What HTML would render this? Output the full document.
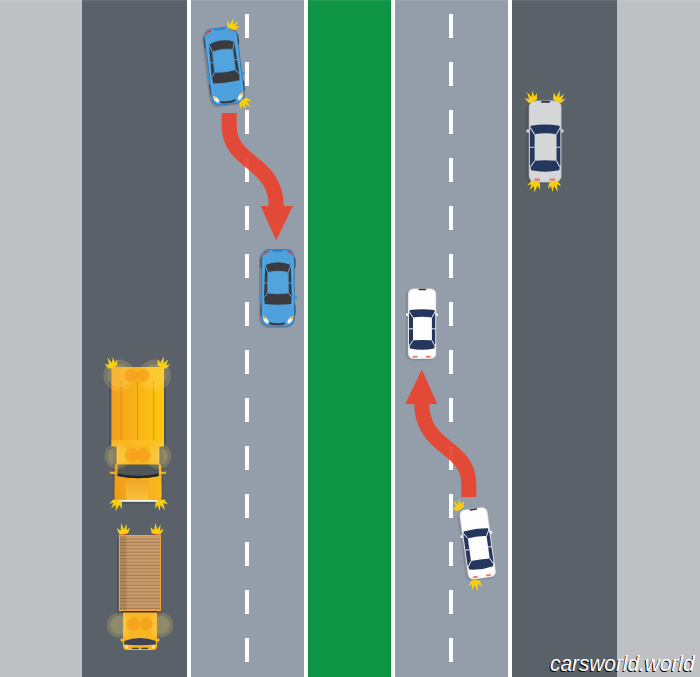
<!DOCTYPE html>
<html><head><meta charset="utf-8">
<style>
html,body{margin:0;padding:0;width:700px;height:677px;overflow:hidden;background:#bfc0c3;}
svg{display:block;position:absolute;left:0;top:0;}
.wm{position:absolute;left:550px;top:651px;font-family:"Liberation Sans",sans-serif;font-style:italic;font-size:21.5px;line-height:26px;color:#fff;text-shadow:-1px 0.6px 0.6px #000;letter-spacing:0px;white-space:nowrap;transform-origin:0 0;transform:scaleX(0.968);}
</style></head><body>
<svg width="700" height="677" viewBox="0 0 700 677">
<defs>
  <pattern id="dash" x="0" y="14" width="4" height="48" patternUnits="userSpaceOnUse">
    <rect x="0" y="0" width="4" height="24" fill="#fff"/>
  </pattern>
  <g id="spark" transform="scale(0.9)">
    <path d="M-5,2.5 L-7.2,-4.5 L-3,-1.2 L-1.8,-9.5 L0.6,-2.2 L4,-8 L3.8,-1.2 L7.8,-3.8 L5,2.5 Q0,4 -5,2.5 Z" fill="#f6cf10"/>
  </g>
  <!-- blue car: 34x77, front at bottom -->
  <g id="bluecar">
    <rect x="-1.5" y="1.5" width="36" height="77.5" rx="9" fill="#000" opacity="0.16"/>
    <rect x="0" y="8" width="35" height="12" rx="2" fill="#3d4147"/>
    <rect x="0" y="55" width="35" height="12" rx="2" fill="#3d4147"/>
    
    <path d="M4,46.5 L-1.8,47.2 Q-2.4,48.8 -1.4,49.8 L4,50.4 Z M31,46.5 L36.8,47.2 Q37.4,48.8 36.4,49.8 L31,50.4 Z" fill="#3f97d8"/>
    <path d="M9,0 L26,0 Q34,0 34,9 L34.2,68 Q34.2,77.5 25,77.5 L10,77.5 Q0.8,77.5 0.8,68 L1,9 Q1,0 9,0 Z" fill="#2f7ec2"/>
    <path d="M9.3,0.9 L25.7,0.9 Q33.1,0.9 33.1,9 L33.3,68 Q33.3,76.6 25,76.6 L10,76.6 Q1.7,76.6 1.7,68 L1.9,9 Q1.9,0.9 9.3,0.9 Z" fill="#4ea1dc"/>
    <path d="M2.6,10 L2.6,66" stroke="#5cb3ef" stroke-width="0.8"/>
    <path d="M32.4,10 L32.4,66" stroke="#5cb3ef" stroke-width="0.8"/>
    <rect x="11.8" y="1" width="10.6" height="1.8" fill="#3480c6"/>
    <path d="M2.8,6 Q4,2 8.8,1.2 L8,3 Q5,4 3.3,6.2 Z" fill="#e8391c"/>
    <path d="M32.2,6 Q31,2 26.2,1.2 L27,3 Q30,4 31.7,6.2 Z" fill="#e8391c"/>
    <path d="M4.8,16 Q17.5,10.5 30.2,16 L31.3,47 L30.7,55 Q17.5,56.3 4.3,55 L3.5,47 Z" fill="#3b3b3e"/>
    <path d="M7.2,23.3 Q17.5,20.8 27.8,23.3 L28,44 Q17.5,45.8 7,44 Z" fill="#53a3dc" stroke="#3f93d2" stroke-width="0.7"/>
    <path d="M7.2,23.3 L4.8,16 M27.8,23.3 L30.2,16 M7,44 L3.8,48 M28,44 L31.2,48 M3.5,34 L7.1,34 M27.9,34 L31.5,34" stroke="#53a3dc" stroke-width="1"/>
    <path d="M2.4,67.2 Q6,67.5 8.2,72.8 Q8,74.8 6,74.3 Q2.2,71.5 2.4,67.2 Z" fill="#fff7e4"/>
    <path d="M2.4,67.2 Q4.5,67.3 5.5,69.5 Q4,70.5 2.6,69.5 Z" fill="#f7b23a"/>
    <path d="M32.6,67.2 Q29,67.5 26.8,72.8 Q27,74.8 29,74.3 Q32.8,71.5 32.6,67.2 Z" fill="#fff7e4"/>
    <path d="M32.6,67.2 Q30.5,67.3 29.5,69.5 Q31,70.5 32.4,69.5 Z" fill="#f7b23a"/>
    <path d="M8.8,73 Q17.5,75.5 24.4,73 L24,75.5 Q17.5,77 9.2,75.5 Z" fill="#3b3b3e"/>
  </g>
  <!-- white car: 28x70, front at top -->
  <g id="whitecar">
    <rect x="-2.5" y="1" width="30" height="71" rx="6" fill="#000" opacity="0.10"/>
    <path d="M2,24.6 L-1.8,25 Q-2.5,26.5 -1.5,27.6 L2,27.6 Z M26,24.6 L29.8,25 Q30.5,26.5 29.5,27.6 L26,27.6 Z" fill="#fdfdfd"/>
    <rect x="0" y="0" width="28.2" height="70.5" rx="5.5" fill="#d9d9db"/>
    <rect x="0.7" y="0.7" width="26.8" height="69.1" rx="4.9" fill="#fdfdfd"/>
    <rect x="10.6" y="0.3" width="7.7" height="1.5" rx="0.7" fill="#333"/>
    <path d="M1.8,21.6 Q14,19.8 26.4,21.6 L27.2,26 L27.2,55 L26.2,60 Q14,62.5 2,60 L1,55 L1,26 Z" fill="#25375e"/>
    <path d="M5,29.1 Q14,27.3 23.9,29.1 L23.9,51.8 Q14,51 5,51.8 Z" fill="#fdfdfd"/>
    <path d="M5,29.1 L1.5,23.6 M23.9,29.1 L26.9,23.6 M5,51.8 L1.5,57.2 M23.9,51.8 L26.7,57.2 M0.8,40.3 L5,40.3 M23.9,40.3 L27.4,40.3" stroke="#fdfdfd" stroke-width="0.9"/>
    <rect x="4.5" y="67.2" width="5.2" height="2" rx="1" fill="#e8604c" opacity="0.8"/>
    <rect x="17.7" y="67.2" width="5.2" height="2" rx="1" fill="#e8604c" opacity="0.8"/>
  </g>
  <g id="silvercar">
    <rect x="-2.5" y="1" width="30" height="71" rx="6" fill="#000" opacity="0.10"/>
    <path d="M2,24.6 L-1.8,25 Q-2.5,26.5 -1.5,27.6 L2,27.6 Z M26,24.6 L29.8,25 Q30.5,26.5 29.5,27.6 L26,27.6 Z" fill="#d6d7d9"/>
    <rect x="0" y="0" width="28.2" height="70.5" rx="5.5" fill="#bfc0c3"/>
    <rect x="0.7" y="0.7" width="26.8" height="69.1" rx="4.9" fill="#d6d7d9"/>
    <rect x="10.6" y="0.3" width="7.7" height="1.5" rx="0.7" fill="#333"/>
    <path d="M1.8,21.6 Q14,19.8 26.4,21.6 L27.2,26 L27.2,55 L26.2,60 Q14,62.5 2,60 L1,55 L1,26 Z" fill="#25375e"/>
    <path d="M5,29.1 Q14,27.3 23.9,29.1 L23.9,51.8 Q14,51 5,51.8 Z" fill="#d6d7d9"/>
    <path d="M5,29.1 L1.5,23.6 M23.9,29.1 L26.9,23.6 M5,51.8 L1.5,57.2 M23.9,51.8 L26.7,57.2 M0.8,40.3 L5,40.3 M23.9,40.3 L27.4,40.3" stroke="#d6d7d9" stroke-width="0.9"/>
    <rect x="4.5" y="67.2" width="5.2" height="2" rx="1" fill="#e8604c" opacity="0.8"/>
    <rect x="17.7" y="67.2" width="5.2" height="2" rx="1" fill="#e8604c" opacity="0.8"/>
  </g>
  <linearGradient id="ygrad" x1="0" y1="0" x2="1" y2="0">
    <stop offset="0" stop-color="#f59e1c"/>
    <stop offset="0.5" stop-color="#f9b416"/>
    <stop offset="1" stop-color="#fdc80f"/>
  </linearGradient>
  <pattern id="slats" x="0" y="536.2" width="10" height="3.3" patternUnits="userSpaceOnUse">
    <rect x="0" y="0" width="10" height="3.3" fill="#c99d6c"/>
    <rect x="0" y="2.3" width="10" height="1" fill="#a67c52"/>
  </pattern>
  <linearGradient id="hood" x1="0" y1="0" x2="1" y2="0">
    <stop offset="0" stop-color="#f09a18"/>
    <stop offset="0.5" stop-color="#f6ae1c"/>
    <stop offset="1" stop-color="#f9b81e"/>
  </linearGradient>
  <linearGradient id="hoodc" x1="0" y1="0" x2="0" y2="1">
    <stop offset="0" stop-color="#f2a62a"/>
    <stop offset="1" stop-color="#fbc23a"/>
  </linearGradient>
</defs>

<!-- road background -->
<rect x="0" y="0" width="700" height="677" fill="#bfc0c3"/>
<rect x="82" y="0" width="105" height="677" fill="#5b6168"/>
<rect x="512" y="0" width="105" height="677" fill="#5b6168"/>
<rect x="187" y="0" width="4" height="677" fill="#fff"/>
<rect x="191" y="0" width="113" height="677" fill="#949eab"/>
<rect x="304" y="0" width="4" height="677" fill="#fff"/>
<rect x="308" y="0" width="83" height="677" fill="#0d9444"/>
<rect x="391" y="0" width="4" height="677" fill="#fff"/>
<rect x="395" y="0" width="113" height="677" fill="#949eab"/>
<rect x="508" y="0" width="4" height="677" fill="#fff"/>
<rect x="245" y="0" width="4" height="677" fill="url(#dash)"/>
<rect x="449" y="0" width="4" height="677" fill="url(#dash)"/>
<rect x="0" y="0" width="700" height="1.2" fill="#fff" opacity="0.08"/>


<!-- arrows -->
<g id="arrow1" opacity="0.93">
  <path d="M229.2,113 L229.2,126 C229.2,165 276.3,160 276.3,207" stroke="#e8432f" stroke-width="15" fill="none"/>
  <path d="M260.7,206 L292.8,206 L276.2,240.5 Z" fill="#e8432f"/>
</g>
<use href="#arrow1" transform="translate(698,610) rotate(180)"/>

<!-- blue cars -->
<use href="#bluecar" transform="translate(224.4,65.6) rotate(-7) translate(-17.5,-38.5)"/>
<use href="#bluecar" transform="translate(260.5,249)"/>
<use href="#spark" transform="translate(232,26.5) rotate(20)"/>
<use href="#spark" transform="translate(244,102) rotate(140)"/>

<!-- white cars -->
<use href="#whitecar" transform="translate(408,288.5)"/>
<use href="#whitecar" transform="translate(477.6,543.4) rotate(-8) translate(-14,-35.25)"/>
<use href="#spark" transform="translate(459,507) rotate(-30)"/>
<use href="#spark" transform="translate(475.5,583) rotate(180)"/>

<!-- silver car -->
<use href="#silvercar" transform="translate(528.8,100.6) scale(1.16)"/>
<use href="#spark" transform="translate(532,99) rotate(-25)"/>
<use href="#spark" transform="translate(558,99) rotate(25)"/>
<use href="#spark" transform="translate(535,184) rotate(195)"/>
<use href="#spark" transform="translate(554,184) rotate(165)"/>

<!-- yellow box truck -->
<g id="ytruck">
  <rect x="109" y="369" width="57" height="81" fill="#000" opacity="0.15"/>
  <rect x="111.4" y="367" width="52.6" height="79.5" fill="url(#ygrad)"/>
  <rect x="120.6" y="381" width="0.9" height="59" fill="#dc8e1e"/>
  <rect x="137.1" y="381" width="0.9" height="59" fill="#dc8e1e"/>
  <rect x="153.2" y="381" width="0.9" height="59" fill="#dc8e1e"/>
  <rect x="111.4" y="440" width="52.6" height="6.5" fill="#fbc02a" opacity="0.6"/>
  <!-- cab -->
  <rect x="113" y="448" width="50" height="56" rx="5" fill="#000" opacity="0.12"/>
  <path d="M109.5,471.4 Q112,472 115,471.4 L115,473.8 Q112,474.3 110,473.5 Z M166.5,471.4 Q164,472 161,471.4 L161,473.8 Q164,474.3 166,473.5 Z" fill="#f6b21c"/>
  <path d="M116.8,446.2 L159.2,446.2 L159.2,463.8 L161.3,465.5 L161.8,496 Q161.8,502 155.8,502 L120.3,502 Q114.3,502 114.3,496 L114.8,465.5 L116.8,463.8 Z" fill="url(#hood)"/>
  <path d="M116.8,446.2 L159.2,446.2 L159.2,463.8 L116.8,463.8 Z" fill="#f9b71c"/>
  <path d="M117.6,446.5 L117.6,463.5 M158.4,446.5 L158.4,463.5" stroke="#fcd060" stroke-width="1"/>
  <path d="M117.6,464.6 L158.8,464.6 L158.8,476 Q138,480.5 117.6,476 Z" fill="#50575b"/>
  <path d="M117.6,473.5 Q138,478 158.8,473.5 L158.8,476 Q138,480.5 117.6,476 Z" fill="#24272b"/>
  <path d="M125.5,479.8 Q138,481 148.5,479.8 L148,501 L126.5,501 Z" fill="url(#hoodc)"/>
  <rect x="118.4" y="500" width="39.3" height="1.5" fill="#fbf7ea"/>
</g>
<g opacity="1">
  <circle cx="119.3" cy="375.5" r="16" fill="#ffe070" opacity="0.18"/>
  <circle cx="119.3" cy="375.5" r="11.5" fill="#ffe070" opacity="0.18"/>
  <circle cx="155" cy="375.5" r="16" fill="#ffe070" opacity="0.18"/>
  <circle cx="155" cy="375.5" r="11.5" fill="#ffe070" opacity="0.18"/>
  <circle cx="131" cy="375.5" r="6.5" fill="#f59c1c" opacity="0.72"/>
  <circle cx="143" cy="375.5" r="6.5" fill="#f59c1c" opacity="0.72"/>
  <circle cx="117.4" cy="456" r="13" fill="#ffe070" opacity="0.18"/>
  <circle cx="117.4" cy="456" r="9.4" fill="#ffe070" opacity="0.18"/>
  <circle cx="158.4" cy="456" r="13" fill="#ffe070" opacity="0.18"/>
  <circle cx="158.4" cy="456" r="9.4" fill="#ffe070" opacity="0.18"/>
  <circle cx="131.9" cy="455" r="7" fill="#f59c1c" opacity="0.72"/>
  <circle cx="143.7" cy="455" r="7" fill="#f59c1c" opacity="0.72"/>
</g>
<use href="#spark" transform="translate(112,365) rotate(-20)"/>
<use href="#spark" transform="translate(162.5,365) rotate(20)"/>
<use href="#spark" transform="translate(117,503) rotate(200)"/>
<use href="#spark" transform="translate(160.5,503) rotate(160)"/>

<!-- dump truck -->
<g id="dtruck">
  <rect x="117" y="537" width="45" height="77" fill="#000" opacity="0.15"/>
  <rect x="118.9" y="535" width="42.2" height="76.2" fill="#f2a33a"/>
  <rect x="120" y="536.2" width="40" height="73.8" fill="url(#slats)"/>
  <rect x="120" y="536.2" width="6.5" height="73.8" fill="#6b4a2a" opacity="0.25"/>
  <rect x="121.5" y="533.3" width="5" height="1.8" fill="#d8302a"/>
  <rect x="153.5" y="533.3" width="5" height="1.8" fill="#d8302a"/>
  <rect x="122" y="611" width="35" height="2" fill="#333"/>
  <path d="M120.3,638.7 L123.7,638.5 L123.7,641.7 L121,641.7 Z M159.7,638.7 L156.3,638.5 L156.3,641.7 L159,641.7 Z" fill="#f6b21c"/>
  <path d="M123,612.5 L157,612.5 L157,646 Q157,650 153,650 L127,650 Q123,650 123,646 Z" fill="#f8b622"/>
  <path d="M124.2,641 Q140,634.8 155.8,641 L155.8,644.5 Q140,646 124.2,644.5 Z" fill="#3b4354"/>
  <path d="M124.5,645 Q126,648.5 128,648.6 L127.5,646 Z M155.5,645 Q154,648.5 152,648.6 L152.5,646 Z" fill="#fff8e0"/>
  <rect x="132" y="647.7" width="6.8" height="1.3" fill="#4a4030"/>
  <rect x="141.3" y="647.7" width="6.8" height="1.3" fill="#4a4030"/>
</g>
<g>
  <circle cx="119.4" cy="625" r="12.6" fill="#ffe070" opacity="0.18"/>
  <circle cx="119.4" cy="625" r="9.1" fill="#ffe070" opacity="0.18"/>
  <circle cx="160.6" cy="625" r="12.6" fill="#ffe070" opacity="0.18"/>
  <circle cx="160.6" cy="625" r="9.1" fill="#ffe070" opacity="0.18"/>
  <circle cx="133" cy="624" r="6.5" fill="#f59c1c" opacity="0.72"/>
  <circle cx="146.3" cy="624" r="6.5" fill="#f59c1c" opacity="0.72"/>
</g>
<use href="#spark" transform="translate(123.5,531.5) rotate(-5)"/>
<use href="#spark" transform="translate(156.5,531.5) rotate(5)"/>
</svg>
<div class="wm">carsworld.world</div>
</body></html>
